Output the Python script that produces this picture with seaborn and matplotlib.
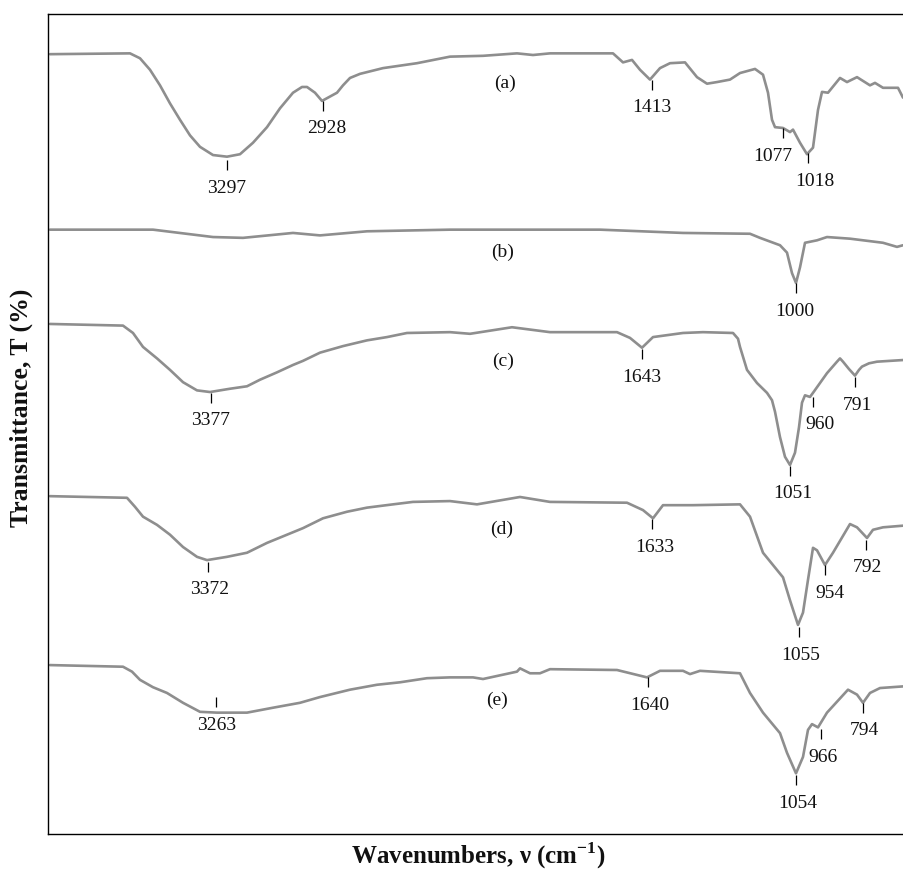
import matplotlib
matplotlib.use("Agg")
import matplotlib.pyplot as plt
import seaborn as sns
import pandas as pd

# FTIR spectra, wavenumber (cm-1) vs stacked transmittance (offset, a.u.)
wn_a = [4022, 3702, 3662, 3622, 3582, 3542, 3502, 3462, 3422, 3370, 3314, 3262, 3210, 3154,
        3102, 3050, 3014, 2994, 2962, 2934, 2910, 2874, 2850, 2822, 2782, 2690, 2554, 2422,
        2290, 2154, 2090, 2022, 1890, 1770,
        1730, 1694, 1662, 1622, 1582, 1542, 1482, 1434, 1394, 1354, 1302, 1262, 1202, 1170,
        1150, 1134, 1122, 1090, 1062, 1050, 1022, 994, 970, 950, 934, 910, 862, 834, 794,
        742, 722, 690, 630, 610]
t_a = [95.1, 95.2, 94.6, 93.2, 91.3, 89.1, 87.1, 85.2, 83.8, 82.8, 82.6, 82.9, 84.3, 86.2,
       88.5, 90.4, 91.1, 91.1, 90.4, 89.4, 89.8, 90.4, 91.3, 92.2, 92.7, 93.4, 94.0, 94.8,
       94.9, 95.2, 95.0, 95.2, 95.2, 95.2,
       94.1, 94.4, 93.2, 92.0, 93.4, 94.0, 94.1, 92.3, 91.5, 91.7, 92.0, 92.8, 93.3, 92.6,
       90.4, 87.1, 86.2, 86.1, 85.6, 85.9, 84.3, 82.9, 83.7, 88.3, 90.5, 90.4, 92.2, 91.7, 92.3,
       91.3, 91.6, 91.0, 91.0, 89.8]

wn_b = [4022, 3610, 3370, 3250, 3050, 2942, 2754, 2422, 1822, 1490, 1222, 1182, 1102, 1074,
        1054, 1038, 1022, 1002, 954, 914, 822, 690, 634, 610]
t_b = [73.7, 73.7, 72.8, 72.7, 73.3, 73.0, 73.5, 73.7, 73.7, 73.3, 73.2, 72.7, 71.8, 70.9,
       68.4, 67.2, 69.1, 72.1, 72.4, 72.8, 72.6, 72.1, 71.6, 71.8]

wn_c = [4022, 3730, 3690, 3650, 3594, 3542, 3490, 3434, 3382, 3302, 3234, 3182, 3114, 3050,
        3010, 2942, 2850, 2754, 2674, 2594, 2422, 2342, 2174, 2022, 1754, 1702, 1654, 1610,
        1490, 1410, 1290, 1270, 1262, 1234, 1194, 1154, 1134, 1122, 1102, 1082, 1062, 1042,
        1026, 1014, 1002, 982, 970, 942, 914, 874, 862, 850, 826, 802, 786, 774, 746, 714, 610]
t_c = [62.2, 62.0, 61.1, 59.4, 58.0, 56.6, 55.1, 54.1, 53.9, 54.3, 54.6, 55.4, 56.3, 57.2,
       57.7, 58.7, 59.5, 60.2, 60.6, 61.1, 61.2, 61.0, 61.8, 61.2, 61.2, 60.5, 59.3, 60.6,
       61.1, 61.2, 61.1, 60.4, 59.4, 56.6, 55.0, 53.8, 52.9, 51.5, 48.4, 46.0, 45.0, 46.5,
       49.6, 52.6, 53.5, 53.3, 53.8, 55.0, 56.2, 57.6, 58.0, 57.6, 56.7, 55.9, 56.6, 57.0,
       57.4, 57.6, 57.8]

wn_d = [4022, 3714, 3682, 3650, 3594, 3542, 3490, 3434, 3394, 3314, 3234, 3154, 3074, 3010,
        2930, 2834, 2754, 2650, 2570, 2422, 2314,
        2142, 2022, 1714, 1650, 1610, 1570, 1450, 1262, 1222, 1170, 1090, 1062, 1030, 1010,
        990, 970, 954, 922, 890, 822, 794, 754, 730, 690, 610]
t_d = [41.2, 41.0, 39.9, 38.7, 37.7, 36.5, 35.0, 33.8, 33.4, 33.8, 34.3, 35.5, 36.5, 37.3,
       38.5, 39.3, 39.8, 40.2, 40.5, 40.6, 40.2,
       41.1, 40.5, 40.4, 39.5, 38.5, 40.1, 40.1, 40.2, 38.7, 34.3, 31.3, 28.5, 25.5, 27.0,
       31.0, 34.9, 34.6, 32.8, 34.3, 37.8, 37.4, 36.1, 37.1, 37.4, 37.6]

wn_e = [4022, 3730, 3694, 3662, 3610, 3554, 3490, 3422, 3354, 3234, 3130, 3022, 2942, 2822,
        2714, 2622, 2514, 2422, 2330, 2290, 2154,
        2142, 2102, 2062, 2022, 1754, 1634, 1582, 1490, 1462, 1422, 1262, 1222, 1170, 1102,
        1074, 1038, 1010, 990, 974, 950, 914, 830, 794, 770, 742, 702, 610]
t_e = [20.6, 20.4, 19.8, 18.8, 17.9, 17.2, 16.0, 14.9, 14.8, 14.8, 15.4, 16.0, 16.7, 17.6,
       18.2, 18.5, 19.0, 19.1, 19.1, 18.9, 19.8,
       20.2, 19.6, 19.6, 20.1, 20.0, 19.1, 19.9, 19.9, 19.5, 19.9, 19.6, 17.2, 14.8, 12.3,
       9.9, 7.4, 9.4, 12.7, 13.4, 13.0, 14.8, 17.6, 17.0, 16.0, 17.2, 17.8, 18.0]

samples = ["(a)", "(b)", "(c)", "(d)", "(e)"]
sample_wn = [2202, 2210, 2210, 2214, 2234]
sample_t = [91.6, 70.9, 57.6, 37.1, 16.3]

# peak labels: text, wavenumber of marker, top of marker, text x-shift (px)
peak_text = ["3297", "2928", "1413", "1077", "1018", "1000",
             "3377", "1643", "1051", "960", "791",
             "3372", "1633", "954", "792", "1055",
             "3263", "1640", "1054", "966", "794"]
peak_wn = [3314, 2930, 1614, 1090, 990, 1038,
           3378, 1654, 1062, 970, 802,
           3390, 1614, 922, 758, 1026,
           3358, 1630, 1038, 938, 770]
peak_top = [82.2, 89.4, 92.0, 86.1, 83.0, 67.2,
            53.8, 59.1, 44.9, 53.3, 55.7,
            33.2, 38.4, 32.8, 35.9, 25.2,
            16.7, 19.1, 7.2, 12.8, 16.0]
peak_dx = [0, 4, 0, -10, 7, -1, 0, 0, 3, 7, 2, 2, 3, 5, 1, 2, 1, 2, 2, 2, 1]

frames = []
for name, wn, t in zip(samples, [wn_a, wn_b, wn_c, wn_d, wn_e], [t_a, t_b, t_c, t_d, t_e]):
    frames.append(pd.DataFrame({"wavenumber": wn, "T": t, "sample": name}))
df = pd.concat(frames, ignore_index=True)

sns.set_theme(style="white")
plt.rcParams["font.family"] = ["Liberation Serif", "DejaVu Serif"]
plt.rcParams["mathtext.fontset"] = "custom"
plt.rcParams["mathtext.rm"] = "Liberation Serif"
plt.rcParams["mathtext.bf"] = "Liberation Serif:bold"

fig = plt.figure(figsize=(9.04, 8.71), dpi=100)
ax = fig.add_axes([48 / 904, 37 / 871, 856 / 904, 820 / 871])

sns.lineplot(data=df, x="wavenumber", y="T", units="sample", estimator=None, sort=False,
             color="#8e8e8e", linewidth=1.9, ax=ax)
for line in ax.lines:
    line.set_solid_joinstyle("round")

ax.set_xlim(4030, 606)
ax.set_ylim(0, 100)
ax.set_xticks([])
ax.set_yticks([])

for side in ["left", "top", "bottom"]:
    ax.spines[side].set_color("black")
    ax.spines[side].set_linewidth(1.0)
ax.spines["right"].set_visible(False)

tick_len = 1.22
ax.vlines(peak_wn, [p - tick_len for p in peak_top], peak_top, color="black", linewidth=0.9)
for txt, w, p, dx in zip(peak_text, peak_wn, peak_top, peak_dx):
    ax.annotate(txt, xy=(w, p - tick_len), xytext=(dx / 1.389, -13), textcoords="offset points",
                ha="center", va="center", fontsize=14, color="#111111")

for name, w, t in zip(samples, sample_wn, sample_t):
    ax.text(w, t, name, ha="center", va="center", fontsize=14, color="#111111")

ax.set_xlabel(r"Wavenumbers, ν (cm$^{\mathbf{-1}}$)", fontsize=18, fontweight="bold",
              color="#111111", va="center")
ax.xaxis.set_label_coords(430 / 856, -22 / 820)
ax.set_ylabel("Transmittance, T (%)", fontsize=18.5, fontweight="bold", color="#111111",
              va="center")
ax.yaxis.set_label_coords(-27 / 856, 426 / 820)

fig.savefig("out.png", dpi=100)
plt.close(fig)
